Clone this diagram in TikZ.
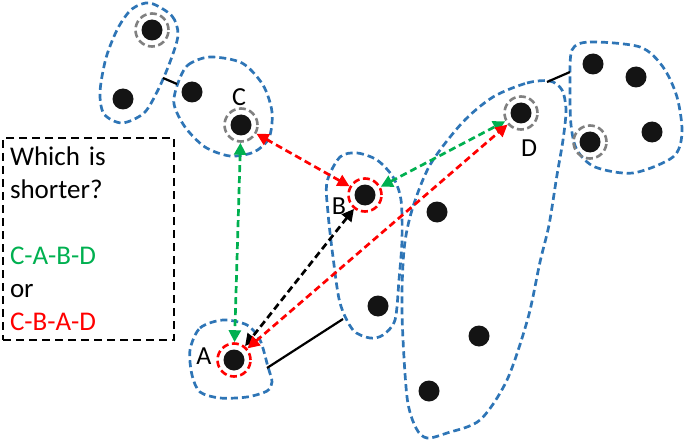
\documentclass[tikz,border=0pt]{standalone}
\usepackage{fontspec}
\setmainfont{Carlito}
\usetikzlibrary{arrows.meta}
\definecolor{clusterblue}{RGB}{46,117,182}
\definecolor{pathgreen}{RGB}{0,176,80}
\definecolor{ringgray}{RGB}{128,128,128}
\begin{document}
\begin{tikzpicture}
  [x=1pt,y=-1pt,
   dot/.style={circle,fill=black!92,minimum size=21pt,inner sep=0pt},
   ring/.style={circle,line width=2.6pt,dash pattern=on 7pt off 3.5pt,minimum size=33pt,inner sep=0pt},
   grayring/.style={ring,draw=ringgray},
   redring/.style={ring,draw=red},
   blob/.style={draw=clusterblue,line width=2.7pt,dash pattern=on 7pt off 4pt},
   tag/.style={font=\fontsize{26}{30}\selectfont,inner sep=0pt},
   link/.style={line width=2.2pt},
   hop/.style={line width=2.7pt,dash pattern=on 7pt off 4pt,>={Triangle[length=12pt,width=12pt]},<->},
   qbox/.style={draw,line width=2.2pt,dash pattern=on 8pt off 5pt,minimum width=171pt,minimum height=202pt,
     text width=157pt,align=left,inner xsep=7pt,font=\fontsize{27}{33}\selectfont}]
  \useasboundingbox (0,0) rectangle (685,441);

  % clusters
  \draw[blob] plot[smooth cycle] coordinates {(150,3) (172,16) (178,35) (170,62) (158,90) (144,113) (122,123) (104,114) (100,92) (106,58) (118,28) (132,9)};
  \draw[blob] plot[smooth cycle] coordinates {(178,83) (188,65) (210,57) (242,63) (263,85) (272,112) (269,138) (254,152) (230,156) (205,147) (185,127) (174,104)};
  \draw[blob] plot[smooth cycle] coordinates {(340,157) (357,153) (377,160) (393,177) (401,200) (402,240) (399,280) (395,320) (383,335) (370,338) (353,330) (340,303) (333,257) (328,213) (327,182)};
  \draw[blob] plot[smooth cycle] coordinates {(190,350) (200,328) (223,320) (247,325) (260,340) (268,367) (272,382) (267,391) (247,397) (220,398) (200,392) (192,375)};
  \draw[blob] plot[smooth cycle] coordinates {(493,97) (527,83) (550,81) (562,90) (566,110) (563,140) (557,175) (549,225) (540,262) (528,318) (507,380) (480,420) (447,433) (427,438) (416,428) (407,397) (402,313) (404,250) (412,210) (430,165) (462,123)};
  \draw[blob] plot[smooth cycle] coordinates {(572,50) (590,42) (640,47) (663,67) (677,97) (682,133) (673,157) (633,173) (595,167) (577,150) (571,125) (570,85)};

  % links between clusters
  \coordinate (tlEdge) at (163,78);
  \coordinate (cEdge) at (177,84);
  \coordinate (aEdge) at (267,368);
  \coordinate (bEdge) at (343,319);
  \coordinate (dEdge) at (547,82);
  \coordinate (rEdge) at (570,72);
  \draw[link] (tlEdge) -- (cEdge);
  \draw[link] (aEdge) -- (bEdge);
  \draw[link] (dEdge) -- (rEdge);

  % plain points
  \foreach \n/\x/\y in {p1/123/99, p2/192/92, p3/378/306, p4/437/212, p5/479/336,
                        p6/429/391, p7/593/64, p8/636/77, p9/652/132}
    \node[dot] (\n) at (\x,\y) {};

  % marked points
  \node[grayring] (ringTop) at (152,30) {};
  \node[dot] (top) at (152,30) {};
  \node[grayring] (ringR) at (590,142) {};
  \node[dot] (right) at (590,142) {};
  \node[grayring] (ringC) at (241,125) {};
  \node[dot] (C) at (241,125) {};
  \node[grayring] (ringD) at (521,113) {};
  \node[dot] (D) at (521,113) {};
  \node[redring] (ringB) at (365,195) {};
  \node[dot] (B) at (365,195) {};
  \node[redring] (ringA) at (234,360) {};
  \node[dot] (A) at (234,360) {};

  \node[tag] (tagC) at (239,97) {C};
  \node[tag] (tagB) at (339,206) {B};
  \node[tag] (tagA) at (204,356) {A};
  \node[tag] (tagD) at (529,148) {D};

  % routes
  \draw[hop,pathgreen] (ringC) -- (ringA);
  \draw[hop,red] (ringC) -- (ringB);
  \draw[hop,pathgreen] (ringB) -- (ringD);
  \draw[hop] (ringB) -- (ringA);
  \draw[hop,red] (ringA) -- (ringD);

  \node[qbox] (question) at (88.5,239) {Which is\\shorter?\\[33pt]\textcolor{pathgreen}{C-A-B-D}\\or\\\textcolor{red}{C-B-A-D}};
\end{tikzpicture}
\end{document}
